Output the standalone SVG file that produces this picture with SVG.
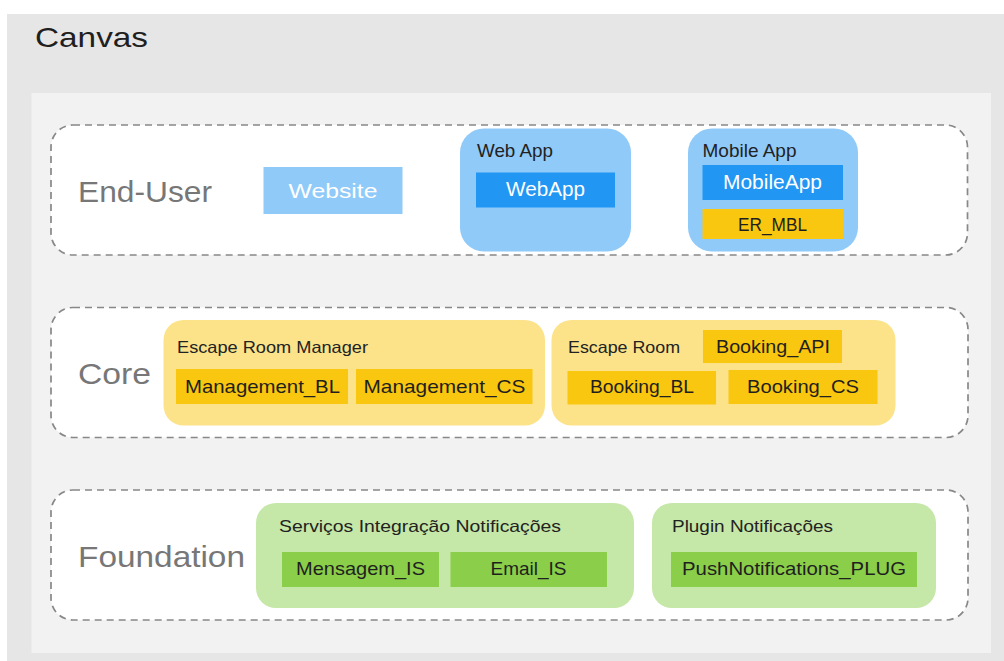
<svg xmlns="http://www.w3.org/2000/svg" width="1004" height="661" viewBox="0 0 1004 661">
  <style>
    text { font-family: "Liberation Sans", Arial, sans-serif; }
    .title { font-size: 28px; fill: #1f1f1f; }
    .layer { fill: #ffffff; stroke: #888888; stroke-width: 1.7; stroke-dasharray: 7 5; }
    .layer-label { font-size: 30px; fill: #777777; }
    .grp-blue { fill: #90caf9; }
    .grp-yellow { fill: #fce38a; }
    .grp-green { fill: #c5e7a7; }
    .grp-label { font-size: 16.5px; fill: #222222; }
    .grp-label-b { font-size: 18.5px; fill: #222222; }
    .box-lightblue { fill: #90caf9; }
    .box-blue { fill: #2196f3; }
    .box-yellow { fill: #f9c610; }
    .box-green { fill: #8ace4a; }
    .box-text { font-size: 18.5px; fill: #1f1f1f; text-anchor: middle; }
    .box-text-w { font-size: 20px; fill: #ffffff; text-anchor: middle; }
  </style>

  <!-- canvas background -->
  <rect x="0" y="0" width="1004" height="661" fill="#ffffff"/>
  <rect x="7" y="14" width="997" height="647" fill="#e6e6e6"/>
  <text class="title" x="35" y="47" textLength="113" lengthAdjust="spacingAndGlyphs">Canvas</text>
  <rect x="31.5" y="93" width="959.5" height="560" fill="#f2f2f2"/>

  <!-- layers -->
  <g id="layer-end-user">
    <rect class="layer" x="51" y="125" width="916.5" height="130" rx="22"/>
    <text class="layer-label" x="78" y="201.5" textLength="134" lengthAdjust="spacingAndGlyphs">End-User</text>
  </g>
  <g id="layer-core">
    <rect class="layer" x="51" y="307.5" width="917" height="130" rx="22"/>
    <text class="layer-label" x="78" y="383.5" textLength="73" lengthAdjust="spacingAndGlyphs">Core</text>
  </g>
  <g id="layer-foundation">
    <rect class="layer" x="51" y="490" width="917" height="130" rx="22"/>
    <text class="layer-label" x="78" y="567" textLength="167" lengthAdjust="spacingAndGlyphs">Foundation</text>
  </g>

  <!-- End-User nodes -->
  <g id="node-website">
    <rect class="box-lightblue" x="263.5" y="167" width="139" height="47"/>
    <text class="box-text-w" x="333" y="198" font-size="21" textLength="89" lengthAdjust="spacingAndGlyphs">Website</text>
  </g>
  <g id="group-web-app">
    <rect class="grp-blue" x="460" y="128.5" width="171" height="123" rx="24"/>
    <text class="grp-label-b" x="477" y="156.5" textLength="76" lengthAdjust="spacingAndGlyphs">Web App</text>
    <g id="node-webapp">
      <rect class="box-blue" x="476" y="172.5" width="139" height="35"/>
      <text class="box-text-w" x="545.5" y="196" textLength="79" lengthAdjust="spacingAndGlyphs">WebApp</text>
    </g>
  </g>
  <g id="group-mobile-app">
    <rect class="grp-blue" x="688" y="128.5" width="170" height="123" rx="24"/>
    <text class="grp-label-b" x="702.5" y="156.5" textLength="94" lengthAdjust="spacingAndGlyphs">Mobile App</text>
    <g id="node-mobileapp">
      <rect class="box-blue" x="702.5" y="165" width="140.5" height="35"/>
      <text class="box-text-w" x="772.5" y="188.5" textLength="99" lengthAdjust="spacingAndGlyphs">MobileApp</text>
    </g>
    <g id="node-er-mbl">
      <rect class="box-yellow" x="702.5" y="209" width="140.5" height="30"/>
      <text class="box-text" x="772.5" y="230.5" font-size="17.5" textLength="69" lengthAdjust="spacingAndGlyphs">ER_MBL</text>
    </g>
  </g>

  <!-- Core nodes -->
  <g id="group-escape-room-manager">
    <rect class="grp-yellow" x="163.5" y="320" width="381.5" height="105.5" rx="20"/>
    <text class="grp-label" x="177" y="353.3" textLength="191" lengthAdjust="spacingAndGlyphs">Escape Room Manager</text>
    <g id="node-management-bl">
      <rect class="box-yellow" x="176" y="369" width="172" height="35"/>
      <text class="box-text" x="262.5" y="393.3" textLength="155" lengthAdjust="spacingAndGlyphs">Management_BL</text>
    </g>
    <g id="node-management-cs">
      <rect class="box-yellow" x="356" y="369" width="176.5" height="35"/>
      <text class="box-text" x="444.5" y="393.3" textLength="162" lengthAdjust="spacingAndGlyphs">Management_CS</text>
    </g>
  </g>
  <g id="group-escape-room">
    <rect class="grp-yellow" x="551.5" y="320" width="344" height="105.5" rx="20"/>
    <text class="grp-label" x="568" y="353.3" textLength="112" lengthAdjust="spacingAndGlyphs">Escape Room</text>
    <g id="node-booking-api">
      <rect class="box-yellow" x="703" y="330" width="139" height="33"/>
      <text class="box-text" x="773" y="353.3" textLength="114" lengthAdjust="spacingAndGlyphs">Booking_API</text>
    </g>
    <g id="node-booking-bl">
      <rect class="box-yellow" x="567.5" y="371" width="148.5" height="33.5"/>
      <text class="box-text" x="642" y="393.3" textLength="104" lengthAdjust="spacingAndGlyphs">Booking_BL</text>
    </g>
    <g id="node-booking-cs">
      <rect class="box-yellow" x="728.5" y="370" width="149" height="34"/>
      <text class="box-text" x="803" y="393.3" textLength="112" lengthAdjust="spacingAndGlyphs">Booking_CS</text>
    </g>
  </g>

  <!-- Foundation nodes -->
  <g id="group-servicos-integracao">
    <rect class="grp-green" x="256" y="503" width="378" height="105" rx="20"/>
    <text class="grp-label" x="279" y="531.7" font-size="17" textLength="282" lengthAdjust="spacingAndGlyphs">Serviços Integração Notificações</text>
    <g id="node-mensagem-is">
      <rect class="box-green" x="282" y="552" width="157" height="35"/>
      <text class="box-text" x="360.5" y="575" textLength="129" lengthAdjust="spacingAndGlyphs">Mensagem_IS</text>
    </g>
    <g id="node-email-is">
      <rect class="box-green" x="450.5" y="552" width="156.5" height="35"/>
      <text class="box-text" x="528.5" y="575" textLength="76" lengthAdjust="spacingAndGlyphs">Email_IS</text>
    </g>
  </g>
  <g id="group-plugin-notificacoes">
    <rect class="grp-green" x="652" y="503" width="284" height="105" rx="20"/>
    <text class="grp-label" x="672" y="532" font-size="17" textLength="161" lengthAdjust="spacingAndGlyphs">Plugin Notificações</text>
    <g id="node-pushnotifications-plug">
      <rect class="box-green" x="671" y="552" width="246" height="35"/>
      <text class="box-text" x="794" y="575" textLength="224" lengthAdjust="spacingAndGlyphs">PushNotifications_PLUG</text>
    </g>
  </g>

  <!-- connectors: none drawn between nodes -->
  <g id="connectors"/>
</svg>
